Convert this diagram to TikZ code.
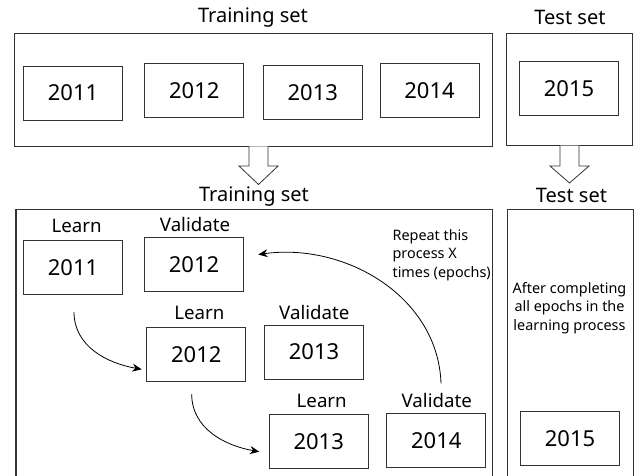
\documentclass[tikz,border=0pt]{standalone}
\usepackage{fontspec}
\setmainfont{Noto Sans}
\usetikzlibrary{arrows.meta}
\begin{document}
\begin{tikzpicture}[x=0.75pt,y=-0.75pt,
  frame/.style={draw=black!80,line width=0.8pt},
  yearbox/.style={draw=black!80,line width=0.75pt,minimum width={99*0.75pt},minimum height={54*0.75pt},inner sep=0pt,font=\fontsize{16.5pt}{19pt}\selectfont},
  title/.style={font=\fontsize{15pt}{18pt}\selectfont,inner sep=0pt},
  lbl/.style={font=\fontsize{14pt}{17pt}\selectfont,inner sep=0pt},
  note/.style={font=\fontsize{10.8pt}{13.9pt}\selectfont,inner sep=0pt},
  blockarrow/.style={draw=black!80,line width=0.6pt,fill=white},
  flow/.style={draw=black,line width=0.6pt,-{Stealth[length=7pt,width=6pt]}}]
\clip (0,0) rectangle (638,475);
\fill[white] (0,0) rectangle (638,475);

% top row
\node[frame,minimum width={478*0.75pt},minimum height={112.3*0.75pt},inner sep=0pt] (trainTop) at (253.3,89.9) {};
\node[frame,minimum width={125.6*0.75pt},minimum height={112.3*0.75pt},inner sep=0pt] (testTop) at (569.5,89.2) {};
\node[title] (ttl1) at (253,18) {Training set};
\node[title] (tst1) at (570,17) {Test set};
\node[yearbox] (t2011) at (73,93) {2011};
\node[yearbox] (t2012) at (194.3,90.7) {2012};
\node[yearbox] (t2013) at (312.8,92.5) {2013};
\node[yearbox] (t2014) at (429.5,90.3) {2014};
\node[yearbox] (t2015) at (569,88.3) {2015};

% block arrows
\draw[blockarrow] (249,146.3) -- (249,166) -- (239,166) -- (258.5,184.5) -- (278,166) -- (268,166) -- (268,146.3);
\draw[blockarrow] (560,145.6) -- (560,166) -- (550,166) -- (569.5,183) -- (589,166) -- (579,166) -- (579,145.6);

% bottom row
\node[title] (ttl2) at (254,197) {Training set};
\node[title] (tst2) at (571.5,195) {Test set};
\draw[frame] (16,490) |- (492.3,209.3) -- (492.3,490);
\draw[frame] (507.3,490) |- (633.3,209.3) -- (633.3,490);
\coordinate (trainBot) at (254,209.3);

\node[lbl] (lr1) at (76.7,226) {Learn};
\node[yearbox] (b2011) at (73,267.2) {2011};
\node[lbl] (vl1) at (195,224) {Validate};
\node[yearbox] (v2012) at (194,264.7) {2012};

\node[lbl] (lr2) at (199.3,313.3) {Learn};
\node[yearbox] (l2012) at (196.3,354.3) {2012};
\node[lbl] (vl2) at (314.3,312.7) {Validate};
\node[yearbox] (v2013) at (314,352) {2013};

\node[lbl] (lr3) at (321.7,401) {Learn};
\node[yearbox] (l2013) at (318.7,441.7) {2013};
\node[lbl] (vl3) at (436.7,400) {Validate};
\node[yearbox] (v2014) at (436.3,440.3) {2014};

\node[yearbox] (b2015) at (570,438.3) {2015};

\node[note,anchor=west,align=left] (rep) at (392.3,255) {Repeat this\\process X\\times (epochs)};
\node[note,align=center] (aft) at (569.5,308) {After completing\\all epochs in the\\learning process};

% flow arrows
\coordinate (s1) at (74,312);
\coordinate (e1) at (141.7,369.3);
\coordinate (s2) at (191.7,394);
\coordinate (e2) at (259.3,451.7);
\coordinate (s3) at (441,383.3);
\coordinate (e3) at (258.3,254.5);
\draw[flow] (s1) to[out=-90,in=170] (e1);
\draw[flow] (s2) to[out=-90,in=170] (e2);
\draw[flow] (s3) to[out=92,in=8] (e3);
\end{tikzpicture}
\end{document}
